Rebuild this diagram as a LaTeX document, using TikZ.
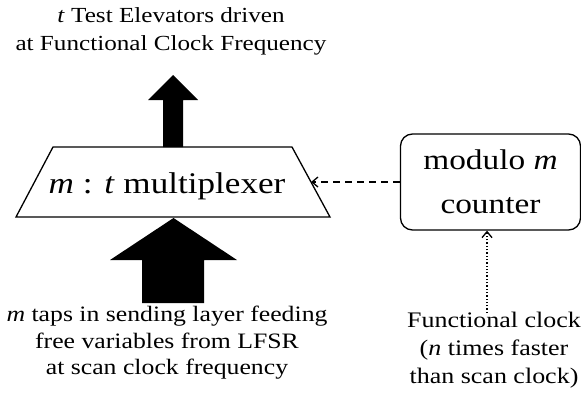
\documentclass[tikz,border=0pt]{standalone}
\usepackage{fontspec}
\setmainfont{Liberation Serif}[FakeStretch=1.17]
\usetikzlibrary{arrows.meta}
\begin{document}
\begin{tikzpicture}[x=1pt,y=-1pt,
  lbl/.style={align=center,font=\fontsize{22}{27.5}\selectfont,inner sep=0pt},
  big/.style={align=center,font=\fontsize{30}{44}\selectfont,inner sep=0pt},
  fatarrow/.style={fill=black,draw=none},
  thinarrow/.style={line width=1.3pt,-{Straight Barb[length=6pt,width=10pt]}}]
\useasboundingbox (0,0) rectangle (581,399);
% top text
\node[lbl,font=\fontsize{21.5}{28}\selectfont] (top) at (171,31) {\textit{t} Test Elevators driven\\at Functional Clock Frequency};
% multiplexer trapezoid
\coordinate (tl) at (53,147);
\coordinate (tr) at (292,147);
\coordinate (br) at (330,217);
\coordinate (bl) at (16,217);
\draw[line width=1.3pt,line join=miter] (tl) -- (tr) -- (br) -- (bl) -- cycle;
\node[big] (mux) at (167,186) {\textit{m} : \textit{t} multiplexer};
% top fat arrow
\fill[fatarrow] (163,147) -- (163,100) -- (148,100) -- (173,75) -- (198,100) -- (183,100) -- (183,147) -- cycle;
% bottom fat arrow
\fill[fatarrow] (142,303) -- (142,260) -- (110,260) -- (173.5,218) -- (237,260) -- (204,260) -- (204,303) -- cycle;
% bottom text
\node[lbl,font=\fontsize{22}{26.5}\selectfont] (bot) at (167,343) {\textit{m} taps in sending layer feeding\\free variables from LFSR\\at scan clock frequency};
% counter
\node[draw,line width=1.3pt,rounded corners=12pt,minimum width=180pt,minimum height=96pt,align=center,inner sep=0pt,font=\fontsize{28.5}{44}\selectfont] (cnt) at (490.5,182) {modulo \textit{m}\\counter};
\draw[thinarrow,dash pattern=on 7pt off 5pt] (cnt.west) -- (311,182) coordinate (muxin);
% functional clock
\node[lbl,font=\fontsize{22.2}{28}\selectfont] (clk) at (494,350) {Functional clock\\(\textit{n} times faster\\than scan clock)};
\coordinate (clktop) at (487,313);
\draw[thinarrow,dotted] (clktop) -- (cnt.south -| clktop);
\end{tikzpicture}
\end{document}
